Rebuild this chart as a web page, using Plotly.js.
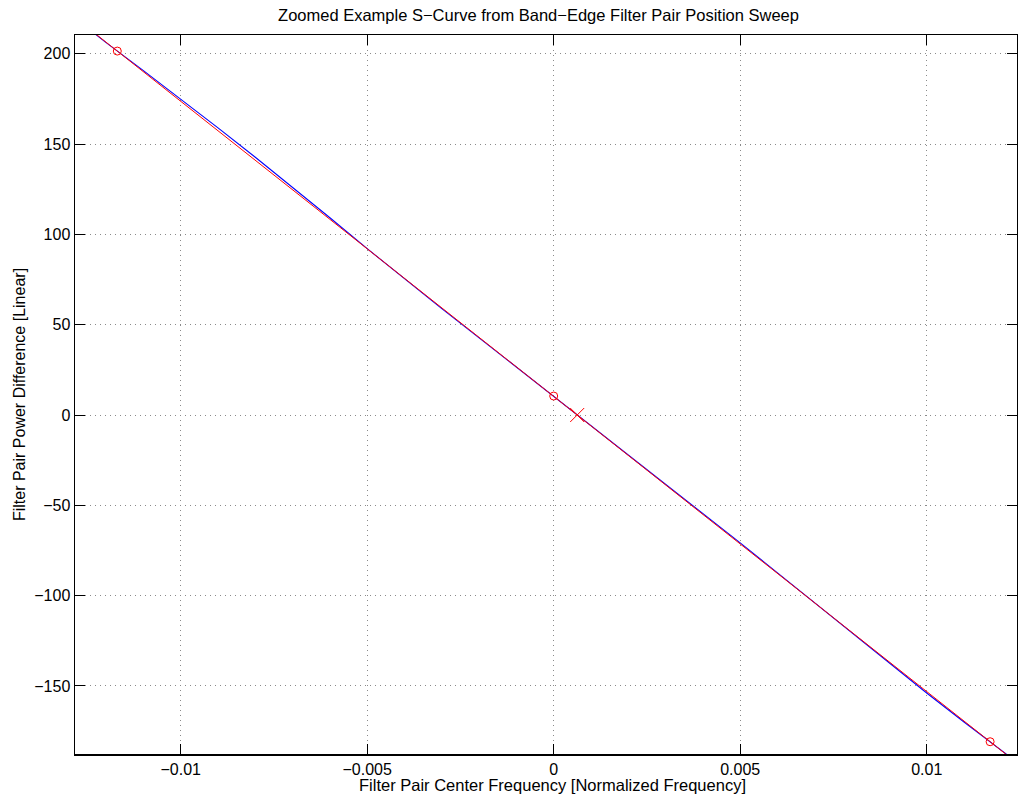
<!DOCTYPE html>
<html>
<head>
<meta charset="utf-8">
<script src="https://cdn.plot.ly/plotly-3.0.1.min.js"></script>
<style>
  html, body { margin: 0; padding: 0; background: #fff; }
  #chart { width: 1018px; height: 796px; }
</style>
</head>
<body>
<div id="chart"></div>
<script>
// Measured S-curve: power difference of the band-edge filter pair vs. pair center frequency
const sweepFreq = [-0.0128, -0.012, -0.011, -0.010, -0.009, -0.008, -0.007, -0.006, -0.005,
  -0.004, -0.003, -0.002, -0.001, 0, 0.001, 0.002, 0.003, 0.004, 0.005, 0.006, 0.007,
  0.008, 0.009, 0.010, 0.011, 0.012, 0.0125];
const sweepDiff = [219.2, 206.2, 190.7, 174.9, 159.0, 142.7, 126.1, 109.2, 92.1,
  75.4, 58.9, 42.7, 26.5, 10.3, -5.9, -22.1, -38.2, -54.5, -70.8, -87.4, -104.0,
  -120.7, -137.4, -153.9, -170.0, -185.6, -193.5];

// Linear fit through the outer sweep points
const fitFreq = [-0.0135, 0.0135];
const fitDiff = [230.9, -210.3];

// Sample points used for the fit, and the estimated zero crossing
const sampleFreq = [-0.0117, 0, 0.0117];
const sampleDiff = [201.5, 10.5, -180.9];
const zeroFreq = [0.00063];
const zeroDiff = [0];

const xTicks = [-0.01, -0.005, 0, 0.005, 0.01];
const xTickText = ['\u22120.01', '\u22120.005', '0', '0.005', '0.01'];
const yTicks = [-150, -100, -50, 0, 50, 100, 150, 200];
const yTickText = ['\u2212150', '\u2212100', '\u221250', '0', '50', '100', '150', '200'];

const font = 'Liberation Sans, Arial, Helvetica, sans-serif';

const traces = [
  { x: sweepFreq, y: sweepDiff, mode: 'lines', line: { color: '#0000ff', width: 1.1 },
    hoverinfo: 'skip' },
  { x: fitFreq, y: fitDiff, mode: 'lines', line: { color: '#ff0000', width: 1 },
    hoverinfo: 'skip' },
  { x: sampleFreq, y: sampleDiff, mode: 'markers',
    marker: { symbol: 'circle-open', size: 8, color: '#ff0000', line: { width: 1, color: '#ff0000' } } },
  { x: zeroFreq, y: zeroDiff, mode: 'markers',
    marker: { symbol: 'x-thin-open', size: 14, color: '#ff0000', line: { width: 1, color: '#ff0000' } } }
];

const axisCommon = {
  showline: true, linecolor: '#000', linewidth: 1.5, mirror: 'allticks',
  ticks: 'inside', ticklen: 10, tickwidth: 1, tickcolor: '#000',
  showgrid: true, gridcolor: '#8a8a8a', gridwidth: 1, griddash: '1px,4px',
  zeroline: false, tickfont: { family: font, size: 16, color: '#000' },
  tickmode: 'array', fixedrange: true
};

const layout = {
  width: 1018, height: 796,
  margin: { l: 75, r: 1, t: 35, b: 42 },
  paper_bgcolor: '#fff', plot_bgcolor: '#fff',
  showlegend: false,
  title: { text: 'Zoomed Example S\u2212Curve from Band\u2212Edge Filter Pair Position Sweep',
    font: { family: font, size: 16.5, color: '#000' }, x: 0.529, xanchor: 'center', y: 0.981, yanchor: 'middle' },
  xaxis: Object.assign({}, axisCommon, {
    range: [-0.012834, 0.012421], tickvals: xTicks, ticktext: xTickText
  }),
  yaxis: Object.assign({}, axisCommon, {
    range: [-187.7, 210.4], tickvals: yTicks, ticktext: yTickText,
    title: { text: 'Filter Pair Power Difference [Linear]',
      font: { family: font, size: 16, color: '#000' }, standoff: 4 }
  }),
  annotations: [{
    text: 'Filter Pair Center Frequency [Normalized Frequency]',
    xref: 'paper', yref: 'paper', x: 0.5064, y: -0.0425, xanchor: 'center', yanchor: 'middle',
    showarrow: false, font: { family: font, size: 16.5, color: '#000' }
  }]
};

Plotly.newPlot('chart', traces, layout, { displayModeBar: false, staticPlot: true });
</script>
</body>
</html>
